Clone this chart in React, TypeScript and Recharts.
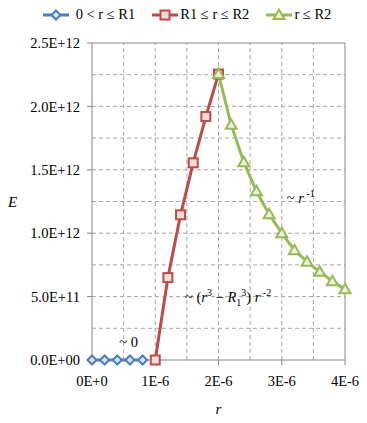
import React from 'react'
import {
  LineChart,
  Line,
  XAxis,
  YAxis,
  ReferenceLine,
  ReferenceDot,
  Label,
} from 'recharts'

// r in metres, E in V/m
const innerR = [0, 0.2e-6, 0.4e-6, 0.6e-6, 0.8e-6]
const innerE = [0, 0, 0, 0, 0]
const shellR = [1.0e-6, 1.2e-6, 1.4e-6, 1.6e-6, 1.8e-6, 2.0e-6]
const shellE = [0, 0.65e12, 1.145e12, 1.555e12, 1.92e12, 2.255e12]
const outerR = [2.0e-6, 2.2e-6, 2.4e-6, 2.6e-6, 2.8e-6, 3.0e-6, 3.2e-6, 3.4e-6, 3.6e-6, 3.8e-6, 4.0e-6]
const outerE = [2.255e12, 1.855e12, 1.56e12, 1.33e12, 1.15e12, 1.0e12, 0.866e12, 0.775e12, 0.695e12, 0.622e12, 0.557e12]

const seriesNames = ['0 < r \u2264 R1', 'R1 \u2264 r \u2264 R2', 'r \u2264 R2']

const xTicks = [0, 1e-6, 2e-6, 3e-6, 4e-6]
const xTickLabels = ['0E+0', '1E-6', '2E-6', '3E-6', '4E-6']
const yTicks = [0, 0.5e12, 1.0e12, 1.5e12, 2.0e12, 2.5e12]
const yTickLabels = ['0.0E+00', '5.0E+11', '1.0E+12', '1.5E+12', '2.0E+12', '2.5E+12']
const gridR = [0.5e-6, 1.0e-6, 1.5e-6, 2.0e-6, 2.5e-6, 3.0e-6, 3.5e-6]
const gridE = [0.25e12, 0.5e12, 0.75e12, 1.0e12, 1.25e12, 1.5e12, 1.75e12, 2.0e12, 2.25e12]

const toRows = (r: number[], e: number[]) => r.map((v, i) => ({ r: v, E: e[i] }))
const innerData = toRows(innerR, innerE)
const shellData = toRows(shellR, shellE)
const outerData = toRows(outerR, outerE)

const FONT = 'Liberation Serif, DejaVu Serif, serif'
const BLUE = '#4a7ebb'
const RED = '#be4b48'
const GREEN = '#98b954'
const AXIS = '#868686'
const GRID = '#a6a6a6'

const Diamond = ({ cx, cy }: { cx: number; cy: number }) => (
  <path
    d={`M${cx},${cy - 4.5}L${cx + 4.5},${cy}L${cx},${cy + 4.5}L${cx - 4.5},${cy}Z`}
    fill="#dce6f2"
    stroke={BLUE}
    strokeWidth={2}
  />
)
const Square = ({ cx, cy }: { cx: number; cy: number }) => (
  <rect x={cx - 4.5} y={cy - 4.5} width={9} height={9} fill="#f2dcdb" stroke={RED} strokeWidth={2} />
)
const Triangle = ({ cx, cy }: { cx: number; cy: number }) => (
  <path
    d={`M${cx},${cy - 5.5}L${cx + 5.5},${cy + 4}L${cx - 5.5},${cy + 4}Z`}
    fill="#ebf1de"
    stroke={GREEN}
    strokeWidth={2}
  />
)

// eslint-disable-next-line @typescript-eslint/no-explicit-any
const dotFn = (Shape: React.FC<{ cx: number; cy: number }>) => (p: any) =>
  <Shape key={`dot-${p.index}`} cx={p.cx} cy={p.cy} />

const LegendItem = ({ color, Shape, text, gap }: { color: string; Shape: React.FC<{ cx: number; cy: number }>; text: string; gap: number }) => (
  <div style={{ display: 'flex', alignItems: 'center' }}>
    <svg width={28} height={14}>
      <line x1={1} y1={7} x2={27} y2={7} stroke={color} strokeWidth={3} />
      <Shape cx={14} cy={7} />
    </svg>
    <span style={{ marginLeft: gap }}>{text}</span>
  </div>
)

// eslint-disable-next-line @typescript-eslint/no-explicit-any
const noteLabel = (parts: { t: string; italic?: boolean; dy?: number; small?: boolean }[]) => (props: any) => {
  const vb = props.viewBox || {}
  const x = (vb.x ?? 0) + (vb.width ?? 0) / 2
  const y = (vb.y ?? 0) + (vb.height ?? 0) / 2
  return (
    <text x={x} y={y} fontFamily={FONT} fontSize={14.5} fill="#000">
      {parts.map((p, i) => (
        <tspan
          key={i}
          fontStyle={p.italic ? 'italic' : 'normal'}
          fontSize={p.small ? 10 : 14.5}
          dy={p.dy ?? 0}
        >
          {p.t}
        </tspan>
      ))}
    </text>
  )
}

export default function App() {
  return (
    <div style={{ position: 'absolute', left: 0, top: 0, width: 367, height: 423, background: '#fff', fontFamily: FONT }}>
      <div
        style={{
          position: 'absolute',
          top: 6,
          left: 0,
          width: 367,
          display: 'flex',
          justifyContent: 'center',
          gap: 16,
          fontSize: 14.5,
          color: '#000',
          paddingLeft: 3,
        }}
      >
        <LegendItem color={BLUE} Shape={Diamond} text={seriesNames[0]} gap={6} />
        <LegendItem color={RED} Shape={Square} text={seriesNames[1]} gap={1} />
        <LegendItem color={GREEN} Shape={Triangle} text={seriesNames[2]} gap={1} />
      </div>
      <LineChart width={367} height={423} margin={{ top: 43, right: 22, bottom: 0, left: 0 }}>
        {gridR.map((v) => (
          <ReferenceLine key={`gx-${v}`} x={v} stroke={GRID} strokeDasharray="4 3" />
        ))}
        {gridE.map((v) => (
          <ReferenceLine key={`gy-${v}`} y={v} stroke={GRID} strokeDasharray="4 3" />
        ))}
        <ReferenceLine x={4e-6} stroke={AXIS} />
        <ReferenceLine y={2.5e12} stroke={AXIS} />
        <XAxis
          type="number"
          dataKey="r"
          domain={[0, 4e-6]}
          ticks={xTicks}
          tickFormatter={(v: number) => xTickLabels[xTicks.indexOf(v)] ?? ''}
          height={63}
          stroke={AXIS}
          tickSize={5}
          tickMargin={11}
          tick={{ fill: '#000', fontFamily: FONT, fontSize: 14.5 }}
          interval={0}
        >
          <Label value="r" position="insideBottom" offset={9} fontStyle="italic" fontFamily={FONT} fontSize={15} fill="#000" />
        </XAxis>
        <YAxis
          type="number"
          dataKey="E"
          domain={[0, 2.5e12]}
          ticks={yTicks}
          tickFormatter={(v: number) => yTickLabels[yTicks.indexOf(v)] ?? ''}
          width={92}
          stroke={AXIS}
          tickSize={5}
          tickMargin={7}
          tick={{ fill: '#000', fontFamily: FONT, fontSize: 14.5 }}
          interval={0}
        >
          <Label value="E" position="insideLeft" offset={8} fontStyle="italic" fontFamily={FONT} fontSize={15} fill="#000" />
        </YAxis>
        <Line
          data={innerData}
          dataKey="E"
          name={seriesNames[0]}
          stroke={BLUE}
          strokeWidth={3}
          dot={dotFn(Diamond)}
          activeDot={false}
          isAnimationActive={false}
        />
        <Line
          data={shellData}
          dataKey="E"
          name={seriesNames[1]}
          stroke={RED}
          strokeWidth={3}
          dot={dotFn(Square)}
          activeDot={false}
          isAnimationActive={false}
        />
        <Line
          data={outerData}
          dataKey="E"
          name={seriesNames[2]}
          stroke={GREEN}
          strokeWidth={3}
          dot={dotFn(Triangle)}
          activeDot={false}
          isAnimationActive={false}
        />
        <ReferenceDot
          x={0.43e-6}
          y={0.1e12}
          r={0}
          fill="none"
          stroke="none"
          label={noteLabel([{ t: '~ 0' }])}
        />
        <ReferenceDot
          x={1.47e-6}
          y={0.46e12}
          r={0}
          fill="none"
          stroke="none"
          label={noteLabel([
            { t: '~ (' },
            { t: 'r', italic: true },
            { t: '3', small: true, dy: -6 },
            { t: ' \u2212 ', dy: 6 },
            { t: 'R', italic: true },
            { t: '1', small: true, dy: 4 },
            { t: '3', small: true, dy: -10 },
            { t: ') ', dy: 6 },
            { t: 'r', italic: true },
            { t: ' -2', small: true, dy: -6 },
          ])}
        />
        <ReferenceDot
          x={3.08e-6}
          y={1.24e12}
          r={0}
          fill="none"
          stroke="none"
          label={noteLabel([
            { t: '~ ' },
            { t: 'r', italic: true },
            { t: ' -1', small: true, dy: -6 },
          ])}
        />
      </LineChart>
    </div>
  )
}
